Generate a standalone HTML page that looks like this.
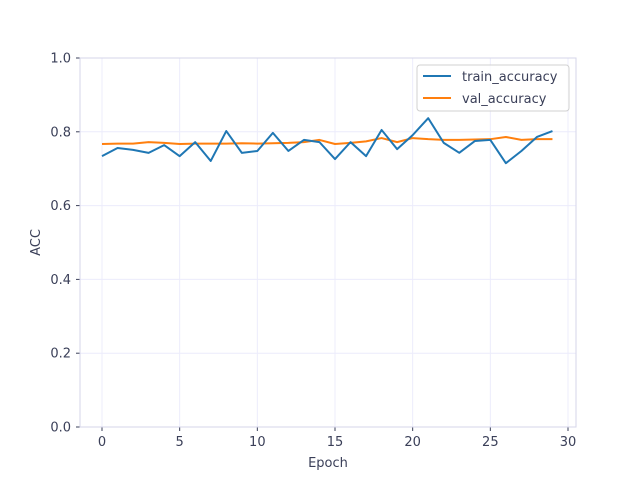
<!DOCTYPE html>
<html><head><meta charset="utf-8"><style>
body{margin:0;background:#fff;font-family:"Liberation Sans","DejaVu Sans",sans-serif;}
svg text{fill:#3a3f58;font-size:13px;font-family:"DejaVu Sans","Liberation Sans",sans-serif;}
</style></head><body>
<svg id="chart" width="640" height="480">
<g id="grid"></g><g id="axes"></g><g id="series"></g><g id="legend"></g>
</svg>
<script>
const epochs=[0,1,2,3,4,5,6,7,8,9,10,11,12,13,14,15,16,17,18,19,20,21,22,23,24,25,26,27,28,29];
const trainAcc=[0.734,0.756,0.751,0.743,0.764,0.734,0.772,0.721,0.802,0.743,0.748,0.797,0.748,0.778,0.772,0.726,0.772,0.734,0.805,0.753,0.791,0.837,0.770,0.743,0.775,0.778,0.715,0.748,0.786,0.802];
const valAcc=[0.767,0.768,0.768,0.772,0.770,0.767,0.768,0.768,0.768,0.769,0.768,0.769,0.770,0.772,0.778,0.767,0.770,0.774,0.783,0.772,0.783,0.780,0.778,0.778,0.779,0.780,0.786,0.778,0.780,0.780];
const xTicks=[0,5,10,15,20,25,30];
const yTicks=[0.0,0.2,0.4,0.6,0.8,1.0];
const NS="http://www.w3.org/2000/svg";
const L=80,R=576,T=58,B=427;
const xs=v=>102+(v)*(568-102)/30;
const ys=v=>B-v*(B-T);
function mk(tag,attrs,parent){const e=document.createElementNS(NS,tag);for(const k in attrs)e.setAttribute(k,attrs[k]);parent.appendChild(e);return e;}
const grid=document.getElementById('grid'),axes=document.getElementById('axes'),series=document.getElementById('series'),legend=document.getElementById('legend');
xTicks.forEach(t=>{
 const g=mk('line',{x1:xs(t),x2:xs(t),y1:T,y2:B,stroke:'#ececfb','stroke-width':1},grid);
 
 
 const tk=mk('line',{x1:xs(t),x2:xs(t),y1:B,y2:B+4,stroke:'#3a3f58'},axes);
 
 
 const tx=mk('text',{x:xs(t),y:B+19,'text-anchor':'middle'},axes);tx.textContent=t;
 
 
});
yTicks.forEach(t=>{
 const g=mk('line',{x1:L,x2:R,y1:ys(t),y2:ys(t),stroke:'#ececfb','stroke-width':1},grid);
 
 
 const tk=mk('line',{x1:L-4,x2:L,y1:ys(t),y2:ys(t),stroke:'#3a3f58'},axes);
 
 
 const tx=mk('text',{x:L-9,y:ys(t)+4.5,'text-anchor':'end'},axes);tx.textContent=t.toFixed(1);
 
 
});
const frame=mk('rect',{x:L,y:T,width:R-L,height:B-T,fill:'none',stroke:'#d5d5ea'},axes);


const xl=mk('text',{x:(L+R)/2,y:467,'text-anchor':'middle'},axes);xl.textContent='Epoch';


const yl=mk('text',{x:40,y:(T+B)/2,'text-anchor':'middle',transform:`rotate(-90 40 ${(T+B)/2})`},axes);yl.textContent='ACC';


function line(data,color,name){
 const p=mk('polyline',{points:data.map((v,i)=>xs(epochs[i])+','+ys(v)).join(' '),fill:'none',stroke:color,'stroke-width':2,'stroke-linejoin':'round'},series);
 
 
}
line(valAcc,'#ff7f0e','val-accuracy-line');
line(trainAcc,'#1f77b4','train-accuracy-line');
const lb=mk('rect',{x:417,y:65,width:152,height:46,rx:3,fill:'#fff','fill-opacity':0.8,stroke:'#d0d0d0'},legend);


[['train_accuracy','#1f77b4',76],['val_accuracy','#ff7f0e',98]].forEach(([n,c,y])=>{
 const l=mk('line',{x1:423,x2:451,y1:y,y2:y,stroke:c,'stroke-width':2},legend);
 
 
 const t=mk('text',{x:462,y:y+5},legend);t.textContent=n;
 
 
});
</script>
</body></html>
